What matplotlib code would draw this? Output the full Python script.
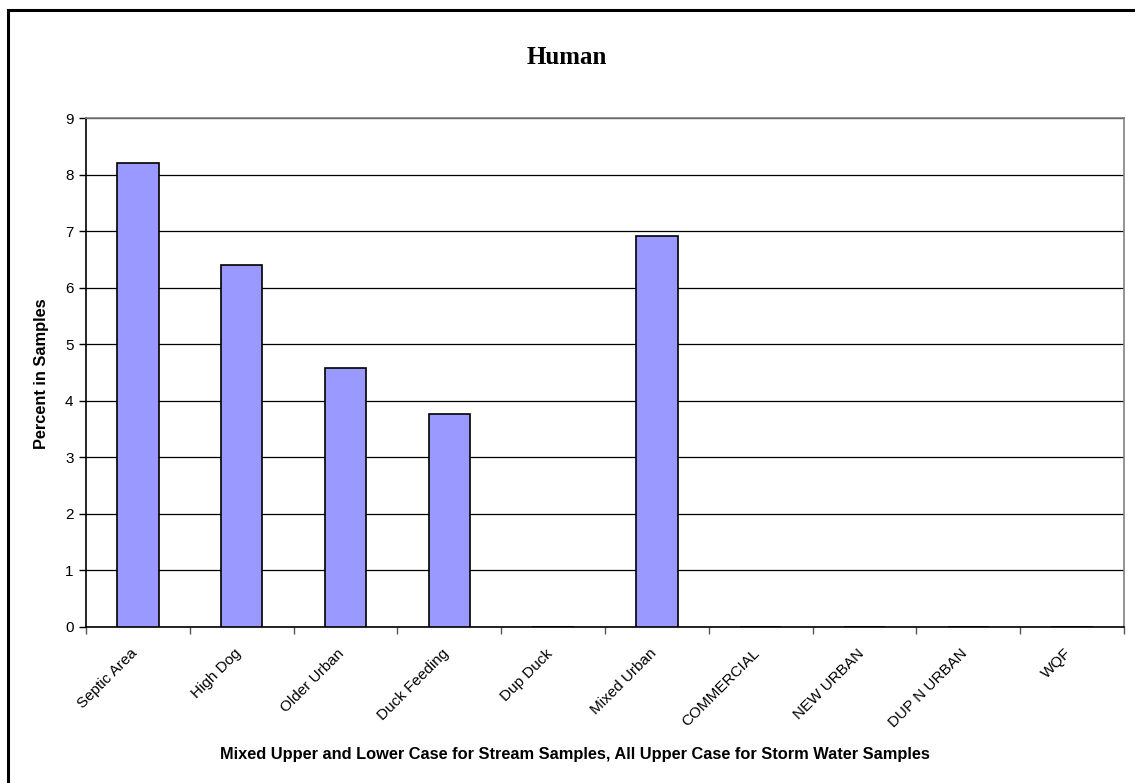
import matplotlib
matplotlib.use("Agg")
import matplotlib.pyplot as plt
import matplotlib.transforms as mtransforms
import numpy as np
from matplotlib.patches import Rectangle

categories = ["Septic Area", "High Dog", "Older Urban", "Duck Feeding", "Dup Duck",
              "Mixed Urban", "COMMERCIAL", "NEW URBAN", "DUP N URBAN", "WQF"]
values = [8.2, 6.4, 4.58, 3.76, 0, 6.92, 0, 0, 0, 0]
yticks = [0, 1, 2, 3, 4, 5, 6, 7, 8, 9]

W, H = 1135, 783
fig = plt.figure(figsize=(W / 100, H / 100), dpi=100)
fig.patch.set_facecolor("white")

# outer border (left and top visible)
fig.add_artist(Rectangle((8 / W, -0.1), 1.2, 1 - 10 / H + 0.1, transform=fig.transFigure,
                         fill=False, edgecolor="black", linewidth=2.2))

ax = fig.add_axes([86 / W, 1 - 627 / H, (1124 - 86) / W, (627 - 118) / H])
x = np.arange(len(categories))
ax.set_axisbelow(True)
ax.bar(x, values, width=0.4, color="#9999FF", edgecolor="black", linewidth=1.2, zorder=3)

ax.set_xlim(-0.5, len(categories) - 0.5)
ax.set_ylim(0, 9)
ax.set_yticks(yticks)
ax.set_yticklabels([str(t) for t in yticks], fontsize=11, family="Liberation Sans")
ax.yaxis.grid(True, color="black", linewidth=0.9)
ax.tick_params(axis="y", direction="out", length=5, width=1, pad=4)

ax.set_xticks(np.arange(len(categories) + 1) - 0.5)
ax.set_xticklabels([])
ax.tick_params(axis="x", which="major", direction="out", length=5, width=1, color="#555555")
ax.set_xticks(x, minor=True)
ax.set_xticklabels(categories, minor=True, rotation=45, ha="right", va="top",
                   rotation_mode="anchor", fontsize=11, family="Liberation Sans")
ax.tick_params(axis="x", which="minor", length=0, pad=14)
offset = mtransforms.ScaledTranslation(-8 / 100, 0, fig.dpi_scale_trans)
for lab in ax.xaxis.get_minorticklabels():
    lab.set_transform(lab.get_transform() + offset)

for s in ["left", "bottom"]:
    ax.spines[s].set_color("black")
    ax.spines[s].set_linewidth(1.2)
for s in ["top", "right"]:
    ax.spines[s].set_color("#808080")
    ax.spines[s].set_linewidth(1.2)

fig.text(567 / W, 1 - 57 / H, "Human", ha="center", va="center", fontsize=18,
         fontweight="bold", family="Liberation Serif")
fig.text(42 / W, 1 - 374 / H, "Percent in Samples", ha="center", va="center", rotation=90,
         fontsize=11.8, fontweight="bold", family="Liberation Sans")
fig.text(575 / W, 1 - 754 / H,
         "Mixed Upper and Lower Case for Stream Samples, All Upper Case for Storm Water Samples",
         ha="center", va="center", fontsize=11.8, fontweight="bold", family="Liberation Sans")

fig.savefig("out.png", dpi=100, facecolor="white")
